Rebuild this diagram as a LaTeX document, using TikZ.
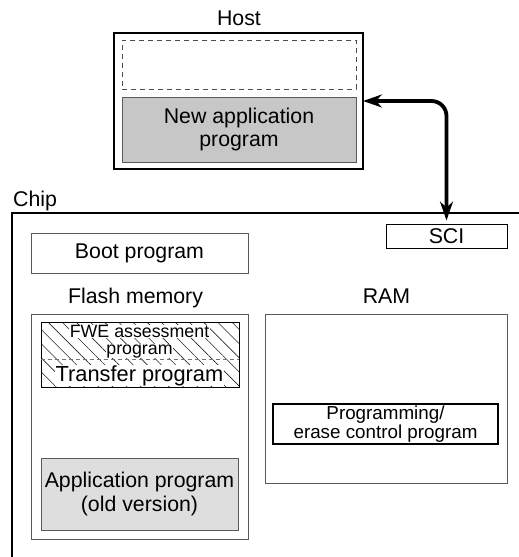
\documentclass[tikz,border=0pt]{standalone}
\usepackage{fontspec}
\setmainfont{Liberation Sans}
\usetikzlibrary{arrows.meta,patterns.meta}
\definecolor{darkfill}{RGB}{199,199,199}
\definecolor{lightfill}{RGB}{222,222,222}
\definecolor{edgegray}{RGB}{90,90,90}
\begin{document}
\begin{tikzpicture}[x=1pt,y=-1pt,
  bigfont/.style={font=\fontsize{21.3}{23}\selectfont},
  smallfont/.style={font=\fontsize{18.8}{16.5}\selectfont},
  fwefont/.style={font=\fontsize{17.8}{18}\selectfont},
  box/.style n args={2}{draw=edgegray, line width=0.8pt, inner sep=0pt,
    minimum width=#1, minimum height=#2, align=center},
  lbl/.style={anchor=base, inner sep=0pt},
  bus/.style={line width=3.8pt, {Stealth[length=19pt,width=13pt]}-{Stealth[length=19pt,width=13pt]}, rounded corners=15pt}
]
\useasboundingbox (0,0) rectangle (519,557);
% Host
\node[lbl, bigfont] (hostlbl) at (239,25) {Host};
\node[box={249pt}{136pt}, draw=black, line width=2pt] (host) at (238.5,101) {};
\node[box={234pt}{49pt}, draw=black!70, dashed, dash pattern=on 5pt off 4pt] (slot) at (239,64.5) {};
\node[box={234pt}{65pt}, fill=darkfill, font=\fontsize{21.3}{23}\selectfont] (newapp) at (239,129.5) {New application\\program};
% Chip
\coordinate (chipTL) at (12,213);
\coordinate (chipTR) at (519,213);
\coordinate (chipBL) at (12,557);
\draw[line width=1.6pt] (chipTR) -- (chipTL) -- (chipBL);
\node[anchor=base west, inner sep=0pt, bigfont] (chiplbl) at (13,206) {Chip};
\node[box={121pt}{24pt}, draw=black, line width=1pt, bigfont] (sci) at (446.5,236) {SCI};
\node[box={217pt}{40pt}, bigfont] (boot) at (139.5,253) {Boot program};
\node[lbl, bigfont] (flashlbl) at (135.5,303) {Flash memory};
\node[lbl, bigfont] (ramlbl) at (386.5,303) {RAM};
% Flash memory
\node[box={217pt}{225pt}] (flash) at (139.5,426.5) {};
\node[box={198pt}{65pt}, draw=black, line width=0.8pt,
  pattern={Lines[angle=-45,distance=10pt,line width=0.6pt]}, pattern color=black!85] (fwe) at (140,354.5) {};
\draw[black!55, dashed, dash pattern=on 4pt off 3pt, line width=0.8pt] (fwe.west |- 0,359) -- (fwe.east |- 0,359);
\node[lbl, fwefont, fill=white, inner sep=0.5pt, text depth=0pt] (fwe1) at (139.5,337.5) {FWE assessment};
\node[lbl, fwefont, fill=white, inner sep=0.5pt, text height=9.5pt] (fwe2) at (139.5,354) {program};
\node[lbl, font=\fontsize{21.8}{23}\selectfont, fill=white, inner sep=0.5pt] (transfer) at (139.5,381) {Transfer program};
\node[box={197pt}{72pt}, fill=lightfill, font=\fontsize{21.3}{24}\selectfont] (oldapp) at (139.5,494) {Application program\\(old version)};
% RAM
\node[box={242pt}{169pt}] (ram) at (386,398.5) {};
\node[box={225pt}{40pt}, draw=black, line width=1.4pt, smallfont] (prog) at (385.5,424) {Programming/\\erase control program};
% Connector
\draw[bus, shorten <=3pt, shorten >=-1pt] (sci.north) |- (host.east);
\end{tikzpicture}
\end{document}
